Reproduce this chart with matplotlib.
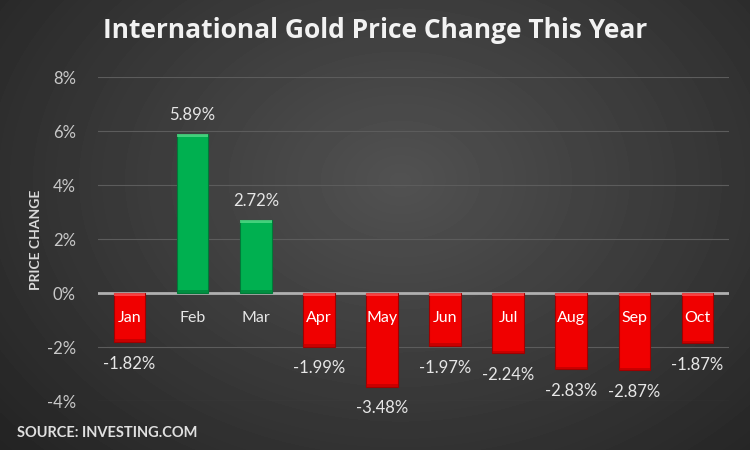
import numpy as np
import matplotlib
matplotlib.use("Agg")
import matplotlib.pyplot as plt

# data
months = ["Jan", "Feb", "Mar", "Apr", "May", "Jun", "Jul", "Aug", "Sep", "Oct"]
changes = [-1.82, 5.89, 2.72, -1.99, -3.48, -1.97, -2.24, -2.83, -2.87, -1.87]
yticks = [-4, -2, 0, 2, 4, 6, 8]

GREEN = "#00b050"
RED = "#f00000"

fig = plt.figure(figsize=(7.5, 4.5), dpi=100)

# background radial gradient
bg = fig.add_axes([0, 0, 1, 1])
yy, xx = np.mgrid[0:450, 0:750]
r = np.sqrt(((xx - 400) / 560.0) ** 2 + ((yy - 180) / 420.0) ** 2)
shade = np.clip(0.32 - 0.19 * r, 0.12, 0.32)
bg.imshow(shade, cmap="gray", vmin=0, vmax=1, aspect="auto", extent=[0, 1, 0, 1])
bg.axis("off")

ax = fig.add_axes([98 / 750, 1 - 401 / 450, 631 / 750, 324 / 450])
ax.patch.set_alpha(0)

x = np.arange(len(months))
colors = [GREEN if v > 0 else RED for v in changes]
edges = ["#007a38" if v > 0 else "#a00000" for v in changes]
ax.bar(x, changes, width=0.5, color=colors, edgecolor=edges, linewidth=0.8, zorder=3)

# bevel: light strip on top edge, dark strip on bottom edge
for xi, v in zip(x, changes):
    top = max(v, 0)
    bot = min(v, 0)
    ax.bar(xi, 0.12, bottom=top - 0.12, width=0.5,
           color="#5fe08f" if v > 0 else "#ff5c5c", linewidth=0, zorder=4, alpha=0.7)
    ax.bar(xi, 0.1, bottom=bot, width=0.5,
           color="#007a38" if v > 0 else "#b00000", linewidth=0, zorder=4, alpha=0.6)

for xi, v, m in zip(x, changes, months):
    if v > 0:
        ax.text(xi, v + 0.4, f"{v:.2f}%", ha="center", va="bottom",
                color="#e6e6e6", fontsize=12, family="Lato")
        ax.text(xi, -0.93, m, ha="center", va="center",
                color="#e6e6e6", fontsize=11.5, family="Lato")
    else:
        ax.text(xi, v - 0.5, f"{v:.2f}%", ha="center", va="top",
                color="#e6e6e6", fontsize=12, family="Lato")
        ax.text(xi, -0.93, m, ha="center", va="center",
                color="white", fontsize=11.5, family="Lato", zorder=5)

ax.set_xlim(-0.5, len(months) - 0.5)
ax.set_ylim(-4, 8)
ax.set_yticks(yticks)
ax.set_yticklabels([f"{t}%" for t in yticks], color="#c8c8c8", fontsize=12, family="Lato")
ax.set_xticks([])
ax.tick_params(axis="y", length=0, pad=16)
for s in ax.spines.values():
    s.set_visible(False)
ax.grid(axis="y", color="#5c5c5c", linewidth=0.8, zorder=0)
ax.axhline(0, color="#b0b0b0", linewidth=2, zorder=2)

fig.text(36 / 750, 1 - 240 / 450, "PRICE CHANGE", rotation=90, ha="center", va="center",
         color="#d9d9d9", fontsize=10, fontweight="bold", family="Lato")

fig.text(375 / 750, 1 - 30 / 450, "International Gold Price Change This Year",
         ha="center", va="center", color="#f2f2f2", fontsize=19, fontweight="bold",
         family="Open Sans")

fig.text(17 / 750, 1 - 433 / 450, "SOURCE: INVESTING.COM", ha="left", va="center",
         color="#e0e0e0", fontsize=10.5, fontweight="bold", family="Lato")

fig.savefig("out.png", dpi=100)
